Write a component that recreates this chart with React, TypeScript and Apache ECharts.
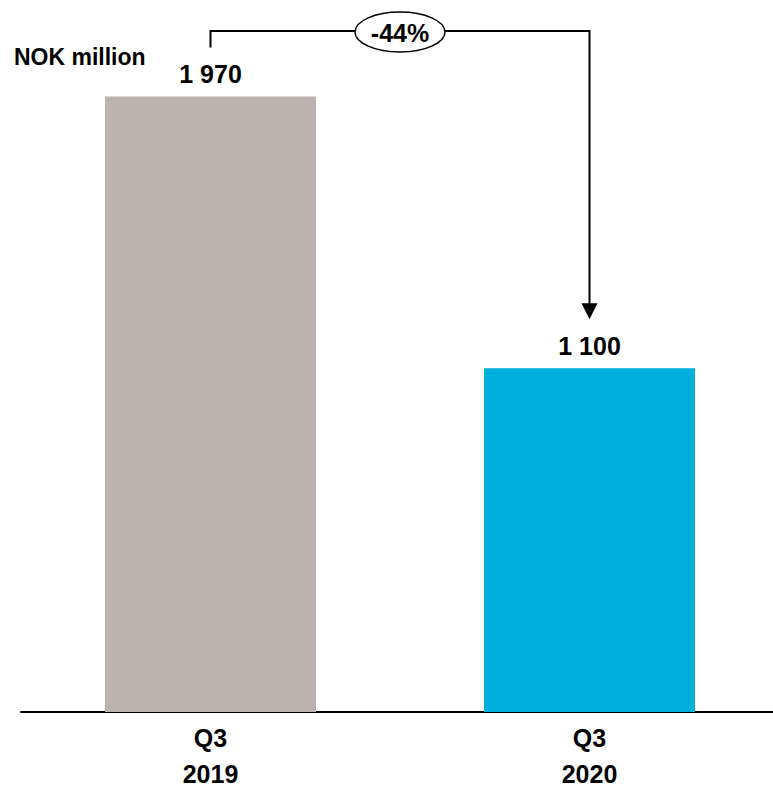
import React, { useEffect, useRef } from "react";
import * as echarts from "echarts";

const categories = ["Q3\n2019", "Q3\n2020"];
const values = [1970, 1100];
const valueLabels = ["1 970", "1 100"];
const barColors = ["#bab3af", "#00b0dc"];
const changeLabel = "-44%";
const unitLabel = "NOK million";

const FONT = "'Liberation Sans', Arial, Helvetica, sans-serif";

export default function App() {
  const ref = useRef<HTMLDivElement>(null);

  useEffect(() => {
    if (!ref.current) return;
    const chart = echarts.init(ref.current, null, { renderer: "svg" });
    chart.setOption({
      animation: false,
      backgroundColor: "#ffffff",
      grid: { left: 21, right: -6, top: 87, bottom: 75, containLabel: false, outerBoundsMode: "none" },
      xAxis: {
        type: "category",
        data: categories,
        axisLine: { lineStyle: { color: "#000", width: 2 } },
        axisTick: { show: false },
        axisLabel: {
          color: "#000",
          fontSize: 25,
          fontWeight: "bold",
          fontFamily: FONT,
          lineHeight: 36,
          margin: 8,
        },
      },
      yAxis: {
        type: "value",
        min: 0,
        max: 2000,
        show: false,
        splitLine: { show: false },
      },
      series: [
        {
          type: "bar",
          barWidth: 211,
          data: values.map((v, i) => ({
            value: v,
            itemStyle: { color: barColors[i] },
            label: {
              show: true,
              position: "top",
              distance: 10,
              formatter: valueLabels[i],
              color: "#000",
              fontSize: 25,
              fontWeight: "bold",
              fontFamily: FONT,
            },
          })),
        },
      ],
    });

    const p1 = chart.convertToPixel({ seriesIndex: 0 }, [0, values[0]]) as number[];
    const p2 = chart.convertToPixel({ seriesIndex: 0 }, [1, values[1]]) as number[];
    const topY = 31;
    const startY = p1[1] - 49;
    const tipY = p2[1] - 49;
    const headH = 16;
    const midX = (p1[0] + p2[0]) / 2;

    chart.setOption({
      graphic: [
        {
          type: "polyline",
          shape: {
            points: [
              [p1[0], startY],
              [p1[0], topY],
              [p2[0], topY],
              [p2[0], tipY - headH + 1],
            ],
          },
          style: { stroke: "#000", lineWidth: 2, fill: null },
        },
        {
          type: "polygon",
          shape: {
            points: [
              [p2[0] - 8, tipY - headH],
              [p2[0] + 8, tipY - headH],
              [p2[0], tipY],
            ],
          },
          style: { fill: "#000" },
        },
        {
          type: "ellipse",
          shape: { cx: midX, cy: topY + 1, rx: 45, ry: 20 },
          style: { fill: "#fff", stroke: "#000", lineWidth: 1.5 },
        },
        {
          type: "text",
          x: midX,
          y: topY + 2,
          style: {
            text: changeLabel,
            fill: "#000",
            fontSize: 25,
            fontWeight: "bold",
            fontFamily: FONT,
            align: "center",
            verticalAlign: "middle",
          },
        },
        {
          type: "text",
          x: 14,
          y: 57,
          style: {
            text: unitLabel,
            fill: "#000",
            fontSize: 23,
            fontWeight: "bold",
            fontFamily: FONT,
            align: "left",
            verticalAlign: "middle",
          },
        },
      ],
    });

    return () => chart.dispose();
  }, []);

  return (
    <div
      ref={ref}
      style={{ position: "fixed", left: 0, top: 0, width: 773, height: 787 }}
    />
  );
}
